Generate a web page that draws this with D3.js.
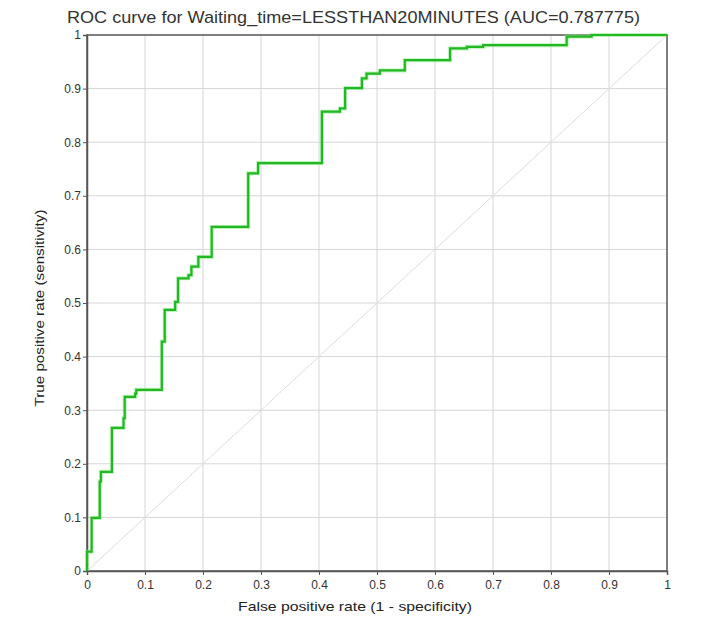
<!DOCTYPE html>
<html><head><meta charset="utf-8">
<script src="https://cdn.jsdelivr.net/npm/d3@7"></script>
<style>body{margin:0;background:#fff;font-family:"Liberation Sans",Arial,sans-serif;}</style>
</head><body>
<svg id="c" width="707" height="619"></svg>
<script>
const titleText = "ROC curve for Waiting_time=LESSTHAN20MINUTES (AUC=0.787775)";
const xLabel = "False positive rate (1 - specificity)";
const yLabel = "True positive rate (sensitivity)";
const tickValues = [0,0.1,0.2,0.3,0.4,0.5,0.6,0.7,0.8,0.9,1];
const tickLabels = ["0","0.1","0.2","0.3","0.4","0.5","0.6","0.7","0.8","0.9","1"];
const fpr = [0,0,0.008,0.022,0.024,0.043,0.063,0.065,0.083,0.085,0.129,0.134,0.152,0.157,0.175,0.180,0.192,0.215,0.278,0.295,0.405,0.436,0.445,0.474,0.482,0.505,0.548,0.626,0.655,0.683,0.827,0.87,1];
const tpr = [0,0.036,0.099,0.167,0.185,0.267,0.285,0.325,0.331,0.338,0.428,0.487,0.502,0.546,0.552,0.568,0.586,0.642,0.742,0.761,0.857,0.863,0.901,0.919,0.928,0.934,0.953,0.975,0.978,0.981,0.997,1,1];

const svg = d3.select("#c");
const L=87,R=667,T=35,B=571;
const x = d3.scaleLinear().domain([0,1]).range([L,R]);
const y = d3.scaleLinear().domain([0,1]).range([B,T]);

// grid
svg.append("g").selectAll("line").data(tickValues.slice(1,-1)).join("line")
  .attr("x1",d=>x(d)).attr("x2",d=>x(d)).attr("y1",T).attr("y2",B)
  .attr("stroke","#d6d6d6").attr("stroke-width",1);
svg.append("g").selectAll("line").data(tickValues.slice(1,-1)).join("line")
  .attr("y1",d=>y(d)).attr("y2",d=>y(d)).attr("x1",L).attr("x2",R)
  .attr("stroke","#d6d6d6").attr("stroke-width",1);
// diagonal
svg.append("line").attr("x1",x(0)).attr("y1",y(0)).attr("x2",x(1)).attr("y2",y(1))
  .attr("stroke","#dcdcdc").attr("stroke-width",1);

// frame
svg.append("rect").attr("x",L).attr("y",T).attr("width",R-L).attr("height",B-T)
  .attr("fill","none").attr("stroke","#555").attr("stroke-width",1.5);

// axes
const xa = svg.append("g").attr("transform",`translate(0,${B})`)
  .call(d3.axisBottom(x).tickValues(tickValues).tickFormat((d,i)=>tickLabels[i]).tickSize(4).tickPadding(5));
const ya = svg.append("g").attr("transform",`translate(${L},0)`)
  .call(d3.axisLeft(y).tickValues(tickValues).tickFormat((d,i)=>tickLabels[i]).tickSize(4).tickPadding(2));
[xa,ya].forEach(g=>{
  g.select(".domain").attr("stroke","#555").attr("stroke-width",1.5);
  g.selectAll(".tick line").attr("stroke","#555");
  g.selectAll("text").attr("fill","#333").attr("font-size",12).attr("font-family","Liberation Sans, Arial, sans-serif");
});

// curve
const pts = fpr.map((f,i)=>[f,tpr[i]]);
const line = d3.line().x(d=>x(d[0])).y(d=>y(d[1])).curve(d3.curveStepAfter);
svg.append("path").attr("d",line(pts)).attr("fill","none")
  .attr("stroke","#8fe88f").attr("stroke-width",4).attr("stroke-opacity",0.6);
svg.append("path").attr("d",line(pts)).attr("fill","none")
  .attr("stroke","#22b822").attr("stroke-width",2.2);

// titles
svg.append("text").attr("x",353.5).attr("y",23).attr("text-anchor","middle")
  .attr("font-size",17).attr("fill","#333")
  .attr("textLength",573).attr("lengthAdjust","spacingAndGlyphs").text(titleText);
svg.append("text").attr("x",355).attr("y",611).attr("text-anchor","middle")
  .attr("font-size",13).attr("fill","#222")
  .attr("textLength",234).attr("lengthAdjust","spacingAndGlyphs").text(xLabel);
svg.append("text").attr("transform","translate(44,308) rotate(-90)").attr("text-anchor","middle")
  .attr("font-size",13).attr("fill","#222")
  .attr("textLength",197).attr("lengthAdjust","spacingAndGlyphs").text(yLabel);
</script>
</body></html>
